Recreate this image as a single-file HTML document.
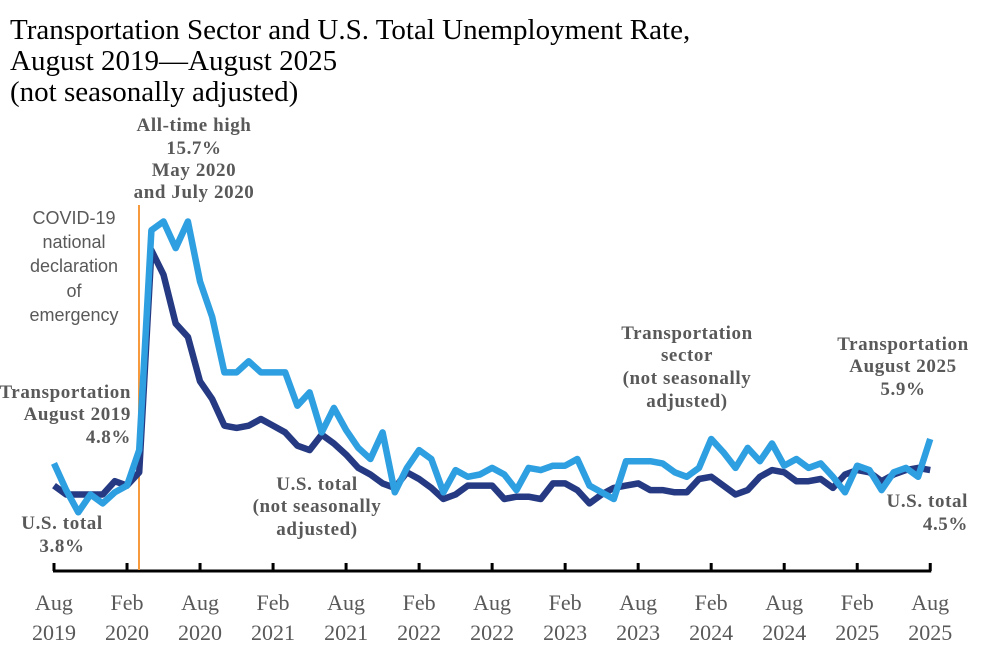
<!DOCTYPE html>
<html><head><meta charset="utf-8"><style>
html,body{margin:0;padding:0;background:#fff;}
svg{display:block;}
.t{font-family:"Liberation Serif",serif;fill:#000;font-size:29px;}
.tick{font-family:"Liberation Serif",serif;fill:#595959;font-size:22px;}
.ann{font-family:"Liberation Serif",serif;fill:#595959;font-size:19px;font-weight:bold;letter-spacing:0.6px;}
.cov{font-family:"Liberation Sans",sans-serif;fill:#595959;font-size:18px;}
</style></head><body>
<svg id="chart" width="988" height="655" viewBox="0 0 988 655">
<g>
<text class="t" x="10" y="39">Transportation Sector and U.S. Total Unemployment Rate,</text>
<text class="t" x="10" y="70">August 2019—August 2025</text>
<text class="t" x="10" y="101">(not seasonally adjusted)</text>
</g>
<g id="axis"></g>
<line x1="139" y1="205" x2="139" y2="570" stroke="#F79A3E" stroke-width="2"/>
<g>
<text class="cov" text-anchor="middle" x="74" y="224">COVID-19</text>
<text class="cov" text-anchor="middle" x="74" y="248">national</text>
<text class="cov" text-anchor="middle" x="74" y="272">declaration</text>
<text class="cov" text-anchor="middle" x="74" y="297">of</text>
<text class="cov" text-anchor="middle" x="74" y="321">emergency</text>
</g>
<g id="lines"></g>
<g>
<text class="ann" text-anchor="middle" x="194" y="131">All-time high</text>
<text class="ann" text-anchor="middle" x="194" y="154">15.7%</text>
<text class="ann" text-anchor="middle" x="194" y="176">May 2020</text>
<text class="ann" text-anchor="middle" x="194" y="198">and July 2020</text>
</g>
<g>
<text class="ann" text-anchor="end" x="131" y="398">Transportation</text>
<text class="ann" text-anchor="end" x="131" y="420">August 2019</text>
<text class="ann" text-anchor="end" x="131" y="443">4.8%</text>
</g>
<g>
<text class="ann" text-anchor="middle" x="62" y="529">U.S. total</text>
<text class="ann" text-anchor="middle" x="62" y="552">3.8%</text>
</g>
<g>
<text class="ann" text-anchor="middle" x="317" y="490">U.S. total</text>
<text class="ann" text-anchor="middle" x="317" y="512">(not seasonally</text>
<text class="ann" text-anchor="middle" x="317" y="535">adjusted)</text>
</g>
<g>
<text class="ann" text-anchor="middle" x="687" y="339">Transportation</text>
<text class="ann" text-anchor="middle" x="687" y="361">sector</text>
<text class="ann" text-anchor="middle" x="687" y="384">(not seasonally</text>
<text class="ann" text-anchor="middle" x="687" y="407">adjusted)</text>
</g>
<g>
<text class="ann" text-anchor="middle" x="903" y="350">Transportation</text>
<text class="ann" text-anchor="middle" x="903" y="372">August 2025</text>
<text class="ann" text-anchor="middle" x="903" y="395">5.9%</text>
</g>
<g>
<text class="ann" text-anchor="end" x="968" y="507">U.S. total</text>
<text class="ann" text-anchor="end" x="968" y="530">4.5%</text>
</g>
</svg>
<script>
const tickMonths = ["Aug","Feb","Aug","Feb","Aug","Feb","Aug","Feb","Aug","Feb","Aug","Feb","Aug"];
const tickYears = ["2019","2020","2020","2021","2021","2022","2022","2023","2023","2024","2024","2025","2025"];
const transportation = [4.8,3.6,2.6,3.4,3.0,3.5,3.8,5.4,15.3,15.7,14.5,15.7,13.0,11.4,8.9,8.9,9.4,8.9,8.9,8.9,7.4,8.0,6.2,7.3,6.3,5.5,5.0,6.2,3.5,4.6,5.4,5.0,3.5,4.5,4.2,4.3,
4.6,4.3,3.6,4.6,4.5,4.7,4.7,5.0,3.8,3.5,3.2,4.9,4.9,4.9,4.8,4.4,4.2,4.6,5.9,5.3,4.6,5.5,4.9,5.7,4.7,5.0,4.6,4.8,4.2,3.5,4.7,4.5,3.6,4.4,4.6,4.2,5.9];
const usTotal = [3.8,3.4,3.4,3.4,3.4,4.0,3.8,4.4,14.4,13.3,11.1,10.5,8.5,7.7,6.5,6.4,6.5,6.8,6.5,6.2,5.6,5.4,6.1,5.7,5.2,4.6,4.3,3.9,3.7,4.4,4.1,3.7,3.2,3.4,3.8,3.8,
3.8,3.2,3.3,3.3,3.2,3.9,3.9,3.6,3.0,3.4,3.7,3.8,3.9,3.6,3.6,3.5,3.5,4.1,4.2,3.8,3.4,3.6,4.2,4.5,4.4,4.0,4.0,4.1,3.7,4.3,4.5,4.4,4.0,4.3,4.5,4.6,4.5];
const NS="http://www.w3.org/2000/svg";
const x0=54, step=12.17, y0=570, ppu=22.2;
function xS(i){return x0+i*step;}
function yS(v){return y0-v*ppu;}
const axis=document.getElementById('axis');
const base=document.createElementNS(NS,'line');
base.setAttribute('x1',xS(0)-1);base.setAttribute('x2',xS(72)+1);
base.setAttribute('y1',y0+1);base.setAttribute('y2',y0+1);
base.setAttribute('stroke','#000');base.setAttribute('stroke-width','3');


axis.appendChild(base);
tickMonths.forEach((m,k)=>{
  const x=xS(k*6);
  const t=document.createElementNS(NS,'line');
  t.setAttribute('x1',x);t.setAttribute('x2',x);t.setAttribute('y1',y0-7);t.setAttribute('y2',y0+1);
  t.setAttribute('stroke','#000');t.setAttribute('stroke-width','3');
  
  
  axis.appendChild(t);
  const tx=document.createElementNS(NS,'text');
  tx.setAttribute('class','tick');tx.setAttribute('text-anchor','middle');
  tx.setAttribute('x',x);tx.setAttribute('y',610);tx.textContent=m;
  
  
  axis.appendChild(tx);
  const ty=document.createElementNS(NS,'text');
  ty.setAttribute('class','tick');ty.setAttribute('text-anchor','middle');
  ty.setAttribute('x',x);ty.setAttribute('y',640);ty.textContent=tickYears[k];
  
  
  axis.appendChild(ty);
});
const lines=document.getElementById('lines');
function draw(arr,color,name){
  const p=document.createElementNS(NS,'polyline');
  p.setAttribute('points',arr.map((v,i)=>xS(i).toFixed(1)+','+yS(v).toFixed(1)).join(' '));
  p.setAttribute('fill','none');p.setAttribute('stroke',color);p.setAttribute('stroke-width','6.5');
  p.setAttribute('stroke-linejoin','round');
  
  
  lines.appendChild(p);
}
draw(usTotal,'#253A82','us-total-line');
draw(transportation,'#2E9FE0','transportation-line');
</script>
</body></html>
